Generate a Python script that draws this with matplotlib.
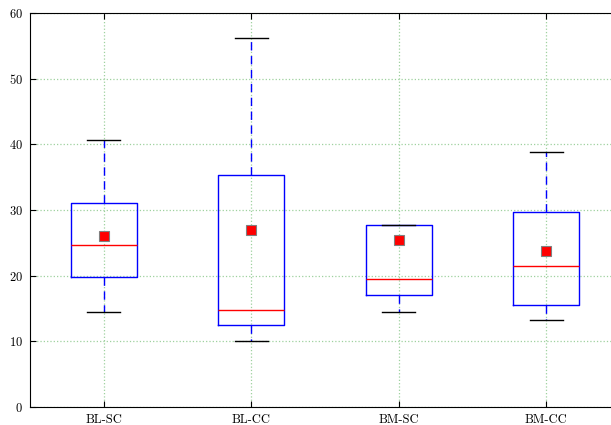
import matplotlib
matplotlib.use("Agg")
import matplotlib.pyplot as plt

labels = ["BL-SC", "BL-CC", "BM-SC", "BM-CC"]
whislo = [14.4, 10.1, 14.4, 13.2]
q1 = [19.8, 12.5, 17.1, 15.5]
med = [24.6, 14.7, 19.5, 21.4]
q3 = [31.1, 35.4, 27.7, 29.7]
whishi = [40.6, 56.2, 27.7, 38.8]
means = [26.1, 26.9, 25.4, 23.7]

plt.rcParams["font.family"] = "cmr10"
plt.rcParams["axes.formatter.use_mathtext"] = True
plt.rcParams["font.size"] = 9

fig = plt.figure(figsize=(6.11, 4.25), dpi=100)
# the original figure was cropped on the right, so the axes run past the edge
ax = fig.add_axes([30 / 611, 18 / 425, 700 / 611, 394 / 425])

stats = []
for i in range(len(labels)):
    stats.append(dict(label=labels[i], whislo=whislo[i], q1=q1[i], med=med[i],
                      q3=q3[i], whishi=whishi[i], mean=means[i], fliers=[]))

ax.bxp(stats, showmeans=True, widths=0.45,
       boxprops=dict(color="blue", linewidth=1),
       whiskerprops=dict(color="blue", linestyle="--", linewidth=1, dashes=(6, 4)),
       capprops=dict(color="black", linewidth=1),
       medianprops=dict(color="red", linewidth=1),
       meanprops=dict(marker="s", markerfacecolor="red", markeredgecolor="gray",
                      markersize=7, markeredgewidth=0.8))

ax.set_xlim(0.5, 0.5 + 700 / 147.5)
ax.set_xticks(range(1, 5), labels)
ax.set_ylim(0, 60)
ax.set_yticks(range(0, 61, 10))
ax.grid(True, color="#9fd19f", linestyle=":", linewidth=0.9)
ax.set_axisbelow(True)
ax.tick_params(direction="in", top=True, right=True, length=4, pad=5)

fig.savefig("out.png", dpi=100)
